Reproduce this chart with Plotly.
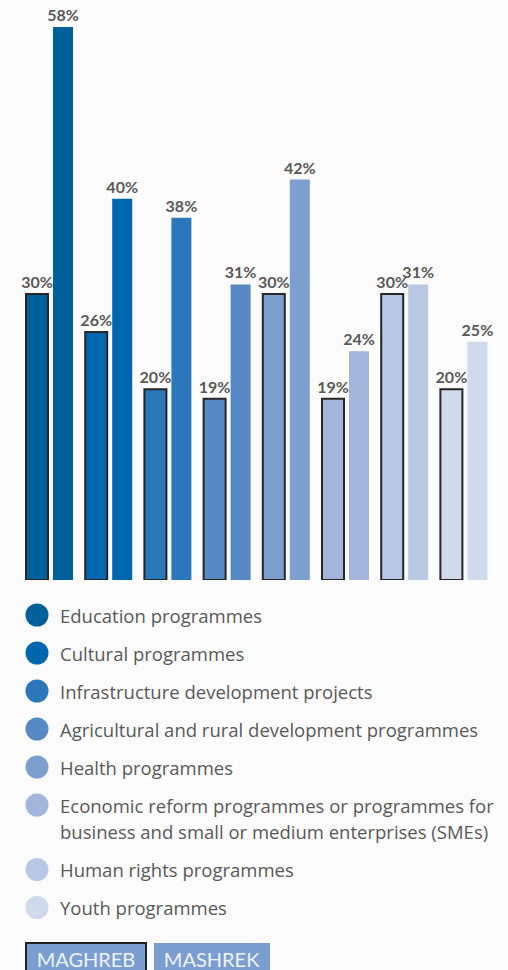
import plotly.graph_objects as go

# ---- data ----
categories = [
    "Education programmes",
    "Cultural programmes",
    "Infrastructure development projects",
    "Agricultural and rural development programmes",
    "Health programmes",
    "Economic reform programmes or programmes for\nbusiness and small or medium enterprises (SMEs)",
    "Human rights programmes",
    "Youth programmes",
]
maghreb = [30, 26, 20, 19, 30, 19, 30, 20]
mashrek = [58, 40, 38, 31, 42, 24, 31, 25]
series_names = ["MAGHREB", "MASHREK"]

colors = ["#00609C", "#0066AD", "#2A78BB", "#5689C4",
          "#7C9FCE", "#A3B5DA", "#B8C8E4", "#D0DAED"]

W, H = 508, 970
BASE = 580.0          # pixel of zero line
PX_PER_PCT = 9.534
GROUP_PX = 59.2
FIRST_CENTER = 49.0

idx = list(range(len(categories)))

fig = go.Figure()

label_font = dict(family="Lato", size=16, color="#595959")

fig.add_trace(go.Bar(
    x=idx, y=maghreb, name=series_names[0],
    marker=dict(color=colors, line=dict(color="#262626", width=2)),
    width=22 / GROUP_PX, offset=-23 / GROUP_PX,
    texttemplate="<b>%{y}%</b>", textposition="outside",
    textfont=label_font, constraintext="none", cliponaxis=False,
    hoverinfo="skip", showlegend=False,
))
fig.add_trace(go.Bar(
    x=idx, y=mashrek, name=series_names[1],
    marker=dict(color=colors, line=dict(width=0)),
    width=20 / GROUP_PX, offset=4 / GROUP_PX,
    texttemplate="<b>%{y}%</b>", textposition="outside",
    textfont=label_font, constraintext="none", cliponaxis=False,
    hoverinfo="skip", showlegend=False,
))

# ---- legend (circles on a pixel-mapped overlay axis, text as annotations) ----
LEG_X = 37
LEG_Y0 = 615
ROW = 38
LINE = 26.5
leg_y = []
y = LEG_Y0
line_rows = []
for c in categories:
    leg_y.append(y)
    lines = c.split("\n")
    line_rows.append([(y + k * LINE, t) for k, t in enumerate(lines)])
    y += ROW + LINE * (len(lines) - 1)

fig.add_trace(go.Scatter(
    x=[LEG_X] * len(categories), y=leg_y, mode="markers",
    marker=dict(size=23, color=colors, line=dict(width=0)),
    xaxis="x2", yaxis="y2", hoverinfo="skip", showlegend=False,
))

annotations = []
for rows in line_rows:
    for yy, t in rows:
        annotations.append(dict(
            x=58 / W, y=1 - yy / H, xref="paper", yref="paper",
            xanchor="left", yanchor="middle", text=t, showarrow=False,
            font=dict(family="Open Sans", size=18.5, color="#595959"),
        ))

# series key boxes
annotations.append(dict(
    x=25 / W, y=1 - 942 / H, xref="paper", yref="paper",
    xanchor="left", yanchor="top", text=series_names[0], showarrow=False,
    font=dict(family="Lato", size=20, color="#EEF2FA"),
    width=114, height=26, align="center", valign="middle",
    bgcolor="#7B9ED0", bordercolor="#222222", borderwidth=2, borderpad=2,
))
annotations.append(dict(
    x=154 / W, y=1 - 943 / H, xref="paper", yref="paper",
    xanchor="left", yanchor="top", text=series_names[1], showarrow=False,
    font=dict(family="Lato", size=20, color="#EEF2FA"),
    width=110, height=26, align="center", valign="middle",
    bgcolor="#7B9ED0", borderwidth=0, borderpad=3,
))

fig.update_layout(
    width=W, height=H,
    margin=dict(l=0, r=0, t=0, b=0),
    paper_bgcolor="#FBFBFB", plot_bgcolor="rgba(0,0,0,0)",
    barmode="overlay",
    xaxis=dict(domain=[0, 1],
               range=[-FIRST_CENTER / GROUP_PX, (W - FIRST_CENTER) / GROUP_PX],
               visible=False, fixedrange=True),
    yaxis=dict(domain=[1 - BASE / H, 1], range=[0, BASE / PX_PER_PCT],
               visible=False, fixedrange=True),
    xaxis2=dict(domain=[0, 1], range=[0, W], visible=False, anchor="y2"),
    yaxis2=dict(domain=[0, 1], range=[H, 0], visible=False, anchor="x2"),
    annotations=annotations,
    showlegend=False,
)

fig.write_html(
    "out.html",
    config={"displayModeBar": False},
    post_script="document.body.style.margin='0';document.body.style.overflow='hidden';",
)
